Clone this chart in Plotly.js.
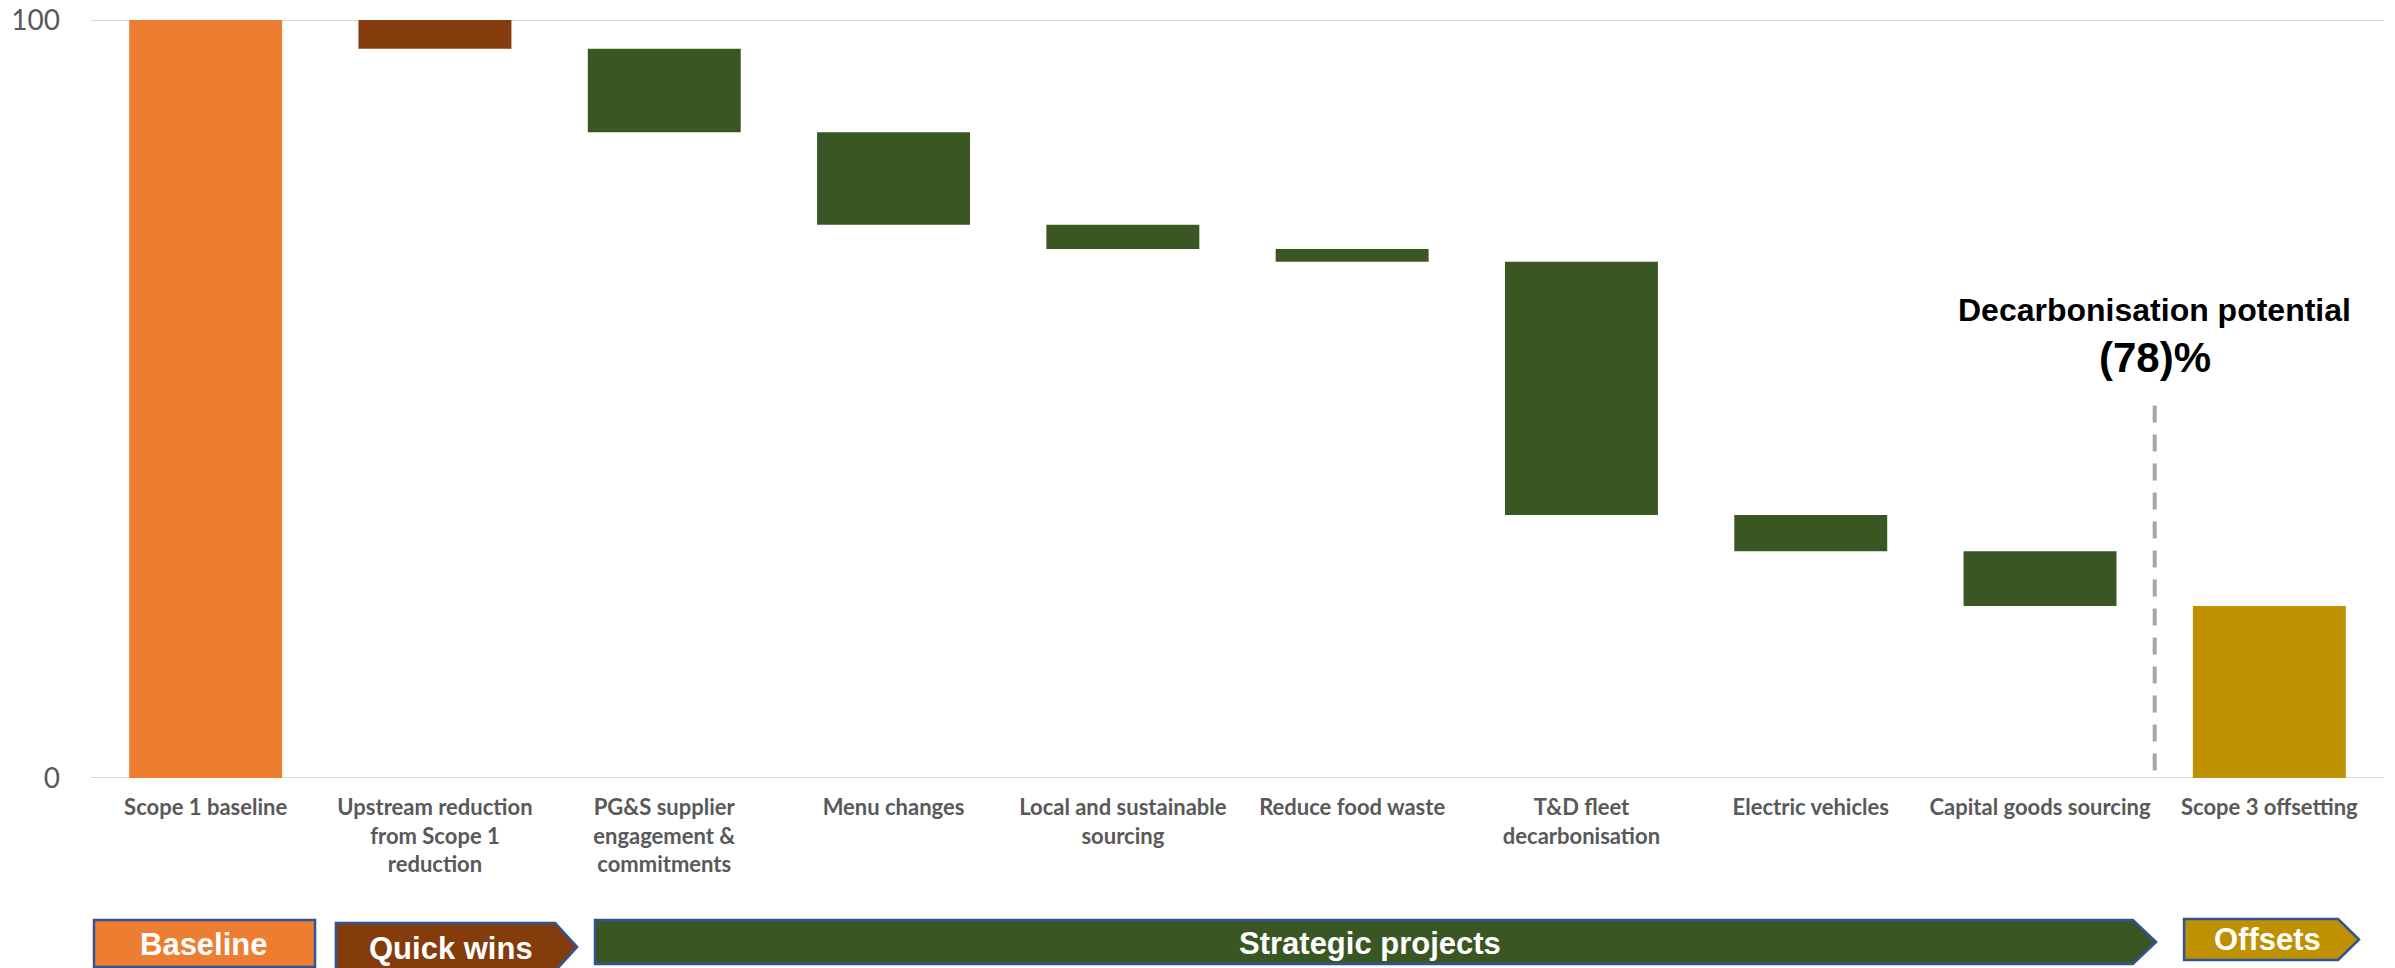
<!DOCTYPE html>
<html><head><meta charset="utf-8">
<script src="https://cdn.plot.ly/plotly-3.0.1.min.js"></script>
<style>html,body{margin:0;padding:0;background:#fff;overflow:hidden}#chart{width:2395px;height:968px}</style>
</head><body><div id="chart"></div>
<script>
// ---- data ----
const categories = ["Scope 1 baseline","Upstream reduction from Scope 1 reduction","PG&S supplier engagement & commitments","Menu changes","Local and sustainable sourcing","Reduce food waste","T&D fleet decarbonisation","Electric vehicles","Capital goods sourcing","Scope 3 offsetting"];
const tickLabels = ["Scope 1 baseline","Upstream reduction<br>from Scope 1<br>reduction","PG&amp;S supplier<br>engagement &amp;<br>commitments","Menu changes","Local and sustainable<br>sourcing","Reduce food waste","T&amp;D fleet<br>decarbonisation","Electric vehicles","Capital goods sourcing","Scope 3 offsetting"];
const baselineValue = 100;
const reductions = [-3.8, -11.0, -12.2, -3.2, -1.7, -33.4, -4.8, -7.2];
const phaseNames = ["Baseline","Quick wins","Strategic projects","Offsets"];
const potentialLabel = "Decarbonisation potential";
const potentialValue = "(78)%";
const yTicks = [0, 100];

// ---- colours ----
const cOrange = "#ED7D31", cBrown = "#843C0C", cGreen = "#3A5723", cGold = "#BF9000";
const barColors = [cOrange, cBrown, cGreen, cGreen, cGreen, cGreen, cGreen, cGreen, cGreen, cGold];

// ---- build floating bars ----
const bases = [0], heights = [baselineValue];
let level = baselineValue;
reductions.forEach(d => { const next = level + d; bases.push(next); heights.push(level - next); level = next; });
bases.push(0); heights.push(level);

const trace = {
  type: "bar", x: categories, y: heights, base: bases,
  marker: { color: barColors, line: { width: 0 } },
  hoverinfo: "skip", showlegend: false
};

// ---- gridlines at the tick values (drawn as shapes so the edge lines show) ----
const shapes = yTicks.map(v => ({
  type: "line", xref: "paper", yref: "y", x0: 0, x1: 1, y0: v, y1: v,
  line: { color: "#D9D9D9", width: 2 }, layer: "below"
}));
shapes.push({
  type: "line", xref: "x", yref: "y", x0: 8.5, x1: 8.5, y0: 1.0, y1: 49.2,
  line: { color: "#A6A6A6", width: 4, dash: "17px,12px" }
});

// ---- phase banners (paper coordinates) ----
const banners = [
  { x0: 0.0013, xb: 0.0977, xt: 0.0977, yt: -0.1873, yb: -0.2493, color: cOrange, tx: 0.0493, ty: -0.2190 },
  { x0: 0.1068, xb: 0.2024, xt: 0.2120, yt: -0.1913, yb: -0.2546, color: cBrown,  tx: 0.1570, ty: -0.2243 },
  { x0: 0.2198, xb: 0.8905, xt: 0.9006, yt: -0.1873, yb: -0.2454, color: cGreen,  tx: 0.5578, ty: -0.2177 },
  { x0: 0.9128, xb: 0.9800, xt: 0.9891, yt: -0.1860, yb: -0.2401, color: cGold,   tx: 0.9490, ty: -0.2137 }
];
const annotations = [
  { xref: "x", yref: "y", x: 8.5, y: 61.7, text: potentialLabel, showarrow: false,
    font: { family: "Liberation Sans, Arial, sans-serif", size: 32, color: "#000", weight: 700 }, xanchor: "center", yanchor: "middle" },
  { xref: "x", yref: "y", x: 8.5, y: 55.5, text: potentialValue, showarrow: false,
    font: { family: "Liberation Sans, Arial, sans-serif", size: 42, color: "#000", weight: 700 }, xanchor: "center", yanchor: "middle" }
];
banners.forEach((b, i) => {
  const ym = (b.yt + b.yb) / 2;
  const path = (b.xt === b.xb)
    ? `M ${b.x0},${b.yt} L ${b.xb},${b.yt} L ${b.xb},${b.yb} L ${b.x0},${b.yb} Z`
    : `M ${b.x0},${b.yt} L ${b.xb},${b.yt} L ${b.xt},${ym} L ${b.xb},${b.yb} L ${b.x0},${b.yb} Z`;
  shapes.push({ type: "path", xref: "paper", yref: "paper", path: path, fillcolor: b.color,
    line: { color: "#2F5597", width: 2.5 }, layer: "above" });
  annotations.push({ xref: "paper", yref: "paper", x: b.tx, y: b.ty, text: phaseNames[i], showarrow: false,
    font: { family: "Liberation Sans, Arial, sans-serif", size: 31, color: "#FFFFFF", weight: 700 },
    xanchor: "center", yanchor: "middle" });
});

const layout = {
  width: 2395, height: 968,
  margin: { l: 91, r: 11, t: 20, b: 190, pad: 0 },
  paper_bgcolor: "#FFFFFF", plot_bgcolor: "#FFFFFF",
  bargap: 0.333,
  showlegend: false,
  xaxis: {
    type: "category", range: [-0.5, 9.5], tickvals: categories, ticktext: tickLabels,
    showgrid: false, showline: false, zeroline: false, ticks: "",
    tickfont: { family: "Lato, sans-serif", size: 22, color: "#595959", weight: 700 },
    ticklabelstandoff: 14, fixedrange: true, tickangle: 0
  },
  yaxis: {
    range: [0, 100], tickvals: yTicks, ticktext: yTicks.map(String),
    showgrid: false, zeroline: false, showline: false, ticks: "",
    tickfont: { family: "Lato, sans-serif", size: 28, color: "#595959" },
    ticklabelstandoff: 30, fixedrange: true
  },
  shapes: shapes,
  annotations: annotations
};

Plotly.newPlot("chart", [trace], layout, { displayModeBar: false, staticPlot: true });
</script>
</body></html>
